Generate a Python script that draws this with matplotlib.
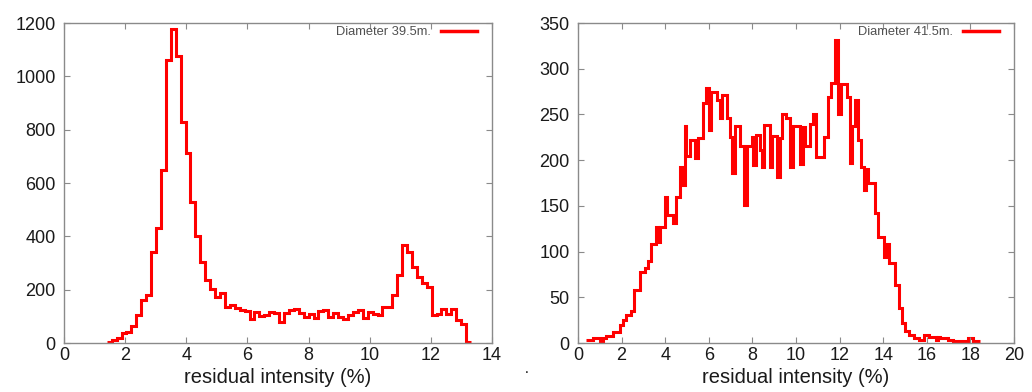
import matplotlib
matplotlib.use("Agg")
import matplotlib.pyplot as plt
import numpy as np

plt.rcParams['font.family'] = ['Liberation Sans', 'DejaVu Sans']

# ---------------- data ----------------
# Left panel: equal-width histogram
left_start = 1.40
left_width = 0.161
left_counts = [5, 10, 18, 37, 42, 64, 105, 161, 180, 342,
               430, 649, 1061, 1178, 1076, 830, 711, 530, 401, 305,
               236, 202, 172, 187, 135, 142, 131, 124, 120, 90,
               118, 103, 105, 118, 112, 80, 112, 124, 126, 112,
               99, 109, 93, 120, 122, 96, 114, 99, 90, 105,
               115, 122, 93, 115, 110, 105, 136, 136, 180, 255,
               367, 342, 286, 249, 224, 211, 105, 110, 126, 110,
               126, 86, 71, 3]
left_label = "Diameter 39.5m."

# Right panel: step positions (irregular) and counts
right_edges = [0.38, 0.69, 0.99, 1.15, 1.30, 1.61, 1.91, 2.06, 2.22, 2.45,
               2.55, 2.83, 3.06, 3.21, 3.35, 3.59, 3.67, 3.75, 3.98, 4.06,
               4.36, 4.51, 4.66, 4.75, 4.89, 4.97, 5.12, 5.35, 5.50, 5.73,
               5.89, 6.00, 6.08, 6.36, 6.50, 6.60, 6.83, 6.97, 7.07, 7.20,
               7.45, 7.62, 7.76, 7.96, 8.05, 8.17, 8.35, 8.45, 8.55, 8.80,
               8.92, 9.11, 9.25, 9.38, 9.55, 9.72, 9.85, 10.18, 10.30, 10.41,
               10.64, 10.80, 10.92, 11.30, 11.48, 11.60, 11.79, 11.93, 12.05, 12.33,
               12.48, 12.58, 12.70, 12.86, 13.00, 13.12, 13.22, 13.32, 13.62, 13.77,
               14.05, 14.17, 14.27, 14.55, 14.72, 14.87, 15.02, 15.17, 15.40, 15.65,
               15.86, 16.09, 16.40, 16.50, 16.60, 16.95, 17.20, 17.90, 18.10, 18.45]
right_counts = [3, 6, 2, 6, 8, 12, 20, 25, 31, 35,
                58, 78, 82, 90, 108, 127, 110, 127, 160, 140,
                131, 160, 193, 173, 237, 204, 222, 202, 224, 262,
                279, 233, 275, 266, 246, 271, 246, 225, 186, 237,
                215, 151, 216, 225, 195, 228, 211, 193, 238, 193,
                226, 182, 224, 251, 246, 193, 237, 196, 236, 216,
                240, 251, 203, 225, 269, 284, 331, 251, 283, 269,
                197, 237, 266, 222, 193, 167, 190, 175, 142, 116,
                94, 108, 87, 63, 38, 22, 13, 9, 6, 3,
                9, 7, 3, 7, 5, 3, 2.5, 5, 2]
right_label = "Diameter 41.5m."

x_label = "residual intensity (%)"
left_xticks = list(range(0, 15, 2))
left_yticks = list(range(0, 1201, 200))
right_xticks = list(range(0, 21, 2))
right_yticks = list(range(0, 351, 50))

# ---------------- figure ----------------
W, H = 1032, 392
fig = plt.figure(figsize=(W / 100, H / 100), dpi=100)

def px_axes(x0, y0, x1, y1):
    return fig.add_axes([x0 / W, 1 - y1 / H, (x1 - x0) / W, (y1 - y0) / H])

axL = px_axes(64, 23, 492, 343)
axR = px_axes(578, 23, 1014, 343)

RED = '#ff0000'
FRAME = '#8a8a8a'

left_edges = left_start + left_width * np.arange(len(left_counts) + 1)

axL.stairs(left_counts, left_edges, baseline=None, color=RED, linewidth=2.2,
           label=left_label)
axR.stairs(right_counts, right_edges, baseline=None, color=RED, linewidth=2.2,
           label=right_label)

panels = [
    (axL, (0, 14), (0, 1200), left_xticks, left_yticks, 15, 428),
    (axR, (0, 20), (0, 350), right_xticks, right_yticks, 15, 436),
]
for ax, xl, yl, xt, yt, rpad, wpx in panels:
    ax.set_xlim(*xl)
    ax.set_ylim(*yl)
    ax.set_xticks(xt)
    ax.set_yticks(yt)
    for s in ax.spines.values():
        s.set_color(FRAME)
        s.set_linewidth(1.0)
    ax.tick_params(direction='in', length=4, width=0.8, color=FRAME,
                   top=True, right=True, labelsize=13, labelcolor='#1a1a1a')
    ax.tick_params(axis='y', pad=6)
    ax.tick_params(axis='x', pad=3)
    ax.set_xlabel(x_label, fontsize=14.5, color='#1a1a1a', labelpad=3)
    leg = ax.legend(loc='upper right', frameon=False, markerfirst=False,
                    fontsize=9.3, handlelength=2.8, handletextpad=0.8,
                    borderpad=0, borderaxespad=0,
                    bbox_to_anchor=(1 - rpad / wpx, 1 - 3 / 320))
    for t in leg.get_texts():
        t.set_color('#505050')
    for h in leg.get_lines():
        h.set_linewidth(2.5)

fig.text(527 / W, 1 - 369 / H, '.', fontsize=10, color='black',
         ha='center', va='center')

fig.savefig('out.png', dpi=100)
